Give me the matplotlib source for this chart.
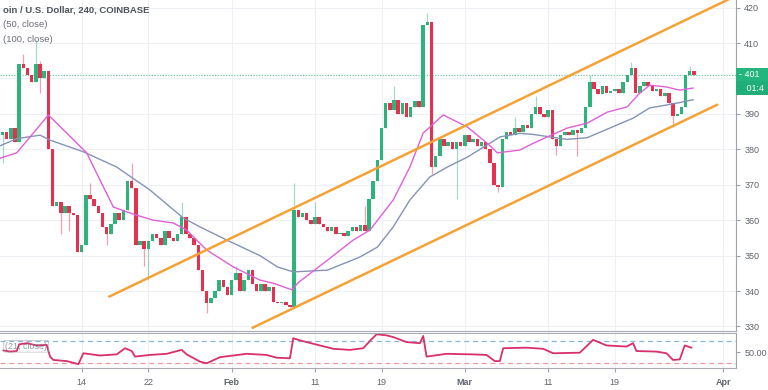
import numpy as np
import pandas as pd
import matplotlib
matplotlib.use('Agg')
import matplotlib.pyplot as plt
import matplotlib.transforms as mtransforms

plt.rcParams['font.family'] = ['Liberation Sans', 'DejaVu Sans']

# 12h candles, first one Jan 4 12:00 (2019)
first_open = 384
closes = [
    385, 383, 386, 382, 404, 403, 401, 399, 404, 400, 402, 380,
    364, 365, 362, 364, 362, 361.5, 351, 353, 367, 366, 364, 362,
    358, 356, 359, 362, 360, 363, 371, 369, 353, 354, 352, 354,
    356, 355, 353, 357, 355, 354, 356, 361, 356, 355, 353, 346,
    340, 336.5, 338, 340, 343, 341, 339, 343, 345, 340, 343, 346,
    342, 340, 342, 340, 341, 337, 336.5, 337, 336, 335.5, 363, 361,
    362, 360, 359, 361, 359, 358, 357, 358, 356, 356.5, 355.5, 357,
    358, 357, 358.5, 357, 366, 371, 377, 386, 393, 391, 394, 390,
    393, 389, 392, 393.5, 392, 415, 416, 375, 378, 383, 381, 382,
    380, 382, 381, 384, 382, 383, 381, 382, 380, 376, 370, 369.5,
    383, 385, 384, 386, 385, 387, 386, 390, 392, 390, 389, 391,
    383, 381, 384, 385, 384, 385.5, 384.5, 386, 392, 399, 397, 395.5,
    398, 396, 396.5, 397, 396, 399, 401, 403, 396, 398, 399, 398,
    396.5, 397, 395, 396, 393, 389.5, 390, 392, 401, 402, 401,
]
wick_high = {
    '2019-01-07 00:00': 407, '2019-01-08 12:00': 411, '2019-01-09 00:00': 405,
    '2019-01-15 00:00': 370.5, '2019-01-20 00:00': 376, '2019-01-26 00:00': 365,
    '2019-02-01 12:00': 347, '2019-02-08 12:00': 370.5, '2019-02-11 00:00': 365,
    '2019-02-17 00:00': 364, '2019-02-20 12:00': 398, '2019-02-24 12:00': 418.5,
    '2019-03-07 00:00': 389, '2019-03-09 12:00': 395, '2019-03-16 00:00': 401,
    '2019-03-21 00:00': 404.6, '2019-03-28 00:00': 403.5,
}
wick_low = {
    '2019-01-04 12:00': 376, '2019-01-09 00:00': 396, '2019-01-11 12:00': 356,
    '2019-01-12 12:00': 357, '2019-01-17 00:00': 353, '2019-01-21 12:00': 347,
    '2019-01-22 00:00': 343, '2019-01-29 00:00': 333.7, '2019-02-25 00:00': 373,
    '2019-02-28 00:00': 366, '2019-03-05 00:00': 368, '2019-03-12 00:00': 378.5,
    '2019-03-14 12:00': 378, '2019-03-26 00:00': 386.3,
}

# moving averages, days after Jan 1
ma50_day = [3.2, 5.2, 7.2, 9.0, 11.2, 13.6, 15.2, 16.8, 19.2, 21.6, 24.0, 25.6, 28.0,
            31.2, 34.4, 36.0, 38.3, 38.9, 42.5, 45.6, 47.6, 50.4, 52.4, 54.0, 56.4,
            59.3, 61.7, 62.9, 65.6, 67.2, 71.3, 73.7, 76.1, 78.5, 80.0, 81.2, 83.2, 84.8, 86.4]
ma50 = [377.5, 379, 384.6, 389.7, 384.6, 379, 371.3, 363.7, 361.7, 360, 359.2, 357.2, 351.6,
        346.8, 343.1, 342.2, 340.3, 342.2, 348.7, 354.4, 357.2, 365.7, 375, 384.6, 389.7,
        386.3, 381.7, 379, 379.8, 381.7, 386, 387.4, 390.5, 392, 395.9, 398.1, 397.6, 396.7, 397.3]
ma100_day = [3.2, 5.2, 8.0, 9.2, 13.2, 17.2, 21.2, 25.2, 27.2, 30.4, 34.4, 36.5, 38.4,
             42.5, 46.4, 48.5, 50.4, 52.4, 54.8, 56.9, 59.3, 62.4, 63.2, 65.6, 67.2,
             71.3, 73.7, 76.4, 79.2, 81.2, 83.2, 84.8, 86.4]
ma100 = [381, 383, 384, 382.6, 379.3, 375, 368.5, 360.6, 358.1, 354.4, 350, 346.8, 345.4,
         345.9, 349.6, 352.4, 358.1, 365.7, 372.2, 375, 377.8, 382.3, 383.5, 384.5, 384.2,
         382.8, 383.3, 386, 388.8, 391.7, 392.5, 393.2, 394]

# RSI
rsi_day = [3.6, 4.4, 5.2, 5.5, 6.4, 7.6, 8.8, 9.2, 9.6, 11.2, 12.6, 13.2, 15.2, 17.2, 18.2,
           19.0, 19.4, 21.2, 23.2, 25.0, 25.6, 27.2, 28.0, 29.6, 31.2, 32.8, 35.2, 36.4,
           38.0, 38.4, 39.2, 40.8, 43.2, 45.2, 46.8, 47.6, 48.4, 49.6, 50.4, 52.0, 53.6,
           54.0, 54.4, 56.8, 60.0, 61.6, 62.6, 63.2, 63.6, 66.4, 68.4, 69.6, 72.8, 74.4,
           76.0, 78.4, 79.2, 79.6, 82.0, 83.2, 84.0, 84.8, 85.4, 86.2]
rsi = [53, 51, 52, 64, 66, 62, 63, 42, 36, 34, 28.5, 48, 44, 46, 57,
       52, 42, 45, 47, 54, 46, 33, 30, 41, 44, 47, 45, 40,
       39, 75, 71, 65, 56, 54, 57, 70, 82, 80, 77, 68, 66,
       79, 42, 47, 46, 45, 34, 34, 57, 58, 56, 48, 49, 72,
       62, 60, 66, 52, 51, 48, 36, 37, 62, 58]

# channel trend lines (day, price)
upper_line = [(16.2, 338.3), (94.0, 426.1)]
lower_line = [(33.4, 329.5), (89.4, 392.7)]
last_price = 401

date_ticks = ['2019-01-14', '2019-01-22', '2019-02-01', '2019-02-11', '2019-02-19',
              '2019-03-01', '2019-03-11', '2019-03-19', '2019-04-01']
date_labels = ['14', '22', 'Feb', '11', '19', 'Mar', '11', '19', 'Apr']
price_ticks = [330, 340, 350, 360, 370, 380, 390, 400, 410, 420]

base = pd.Timestamp('2019-01-01')


def to_dates(days):
    return base + pd.to_timedelta(np.asarray(days, dtype=float), unit='D')


up_c, down_c = '#2fb37c', '#e3324f'
grid_c = '#edf1f5'
text_c = '#5f636d'

times = pd.date_range('2019-01-04 12:00', periods=len(closes), freq='12h')
opens = [first_open] + closes[:-1]
highs, lows, colors, bottoms, heights = [], [], [], [], []
for ts, o, c in zip(times, opens, closes):
    key = ts.strftime('%Y-%m-%d %H:%M')
    highs.append(wick_high.get(key, max(o, c)))
    lows.append(wick_low.get(key, min(o, c)))
    colors.append(up_c if c >= o else down_c)
    bottoms.append(min(o, c))
    heights.append(max(abs(c - o), 0.5))

fig = plt.figure(figsize=(7.68, 3.9), dpi=100)
ax = fig.add_axes([0, 0.1513, 0.9583, 0.8487])
rax = fig.add_axes([0, 0.0564, 0.9583, 0.0898], sharex=ax)

tick_dates = pd.to_datetime(date_ticks)
for a in (ax, rax):
    a.set_xticks(tick_dates)
    a.grid(True, axis='x', color=grid_c, lw=0.8)
    a.set_axisbelow(True)
    a.spines['left'].set_visible(False)
    a.spines['right'].set_color('#9ea2a9')
    a.spines['bottom'].set_color('#a9acb2')
    a.spines['top'].set_color('#a9acb2')
ax.spines['top'].set_visible(False)
ax.grid(True, axis='y', color=grid_c, lw=0.8)

ax.axhline(last_price, color='#6fcfa3', lw=0.9, ls=(0, (1, 1.2)), zorder=1)

ax.vlines(times, lows, highs, colors=colors, lw=0.9, alpha=0.45, zorder=2)
ax.bar(times, heights, bottom=bottoms, width=0.42, color=colors, linewidth=0, zorder=3)

ax.plot(to_dates(ma100_day), ma100, color='#8593b6', lw=1.0, zorder=4)
ax.plot(to_dates(ma50_day), ma50, color='#e060d8', lw=1.0, zorder=4)

for line in (upper_line, lower_line):
    d, p = zip(*line)
    ax.plot(to_dates(d), p, color='#f4a236', lw=1.8, zorder=5, solid_capstyle='butt')

ax.set_xlim(to_dates([3.19])[0], to_dates([91.55])[0])
ax.set_ylim(328.72, 422.15)
ax.yaxis.tick_right()
ax.set_yticks(price_ticks)
ax.tick_params(axis='y', labelsize=6.5, colors='#9ea2a9', labelcolor=text_c, length=3, pad=3)
ax.tick_params(axis='x', labelbottom=False, length=0)

# price label boxes
trans = mtransforms.blended_transform_factory(ax.transAxes, ax.transData)
ax.annotate('- 401        ', xy=(1.0, last_price), xycoords=trans, xytext=(2, 0),
            textcoords='offset points', ha='left', va='center', color='white', fontsize=6.5,
            bbox=dict(boxstyle='square,pad=0.3', fc='#22b57d', ec='none'), annotation_clip=False)
ax.annotate('   01:4       ', xy=(1.0, last_price), xycoords=trans, xytext=(2, -9.5),
            textcoords='offset points', ha='left', va='center', color='white', fontsize=6.5,
            bbox=dict(boxstyle='square,pad=0.3', fc='#1fae77', ec='none'), annotation_clip=False)

# RSI panel
rax.axhline(70, color='#86b8d8', lw=0.9, ls=(0, (4, 3)))
rax.axhline(30, color='#f09a9e', lw=0.9, ls=(0, (4, 3)))
rax.plot(to_dates(rsi_day), rsi, color='#d92f6d', lw=1.3)
rax.set_ylim(21.6, 84.3)
rax.yaxis.tick_right()
rax.set_yticks([50])
rax.set_yticklabels(['50.00'])
rax.tick_params(axis='y', labelsize=6.5, colors='#9ea2a9', labelcolor=text_c, length=3, pad=3)
rax.set_xticklabels(date_labels)
rax.tick_params(axis='x', labelsize=6.5, colors='#9ea2a9', labelcolor=text_c, length=3, pad=4)
for lab in rax.get_xticklabels():
    if lab.get_text() in ('Feb', 'Mar', 'Apr'):
        lab.set_fontweight('bold')
rax.text(0.007, 0.62, '(21, close)', transform=rax.transAxes, fontsize=6.5, color='#7d8089',
         alpha=0.8, va='center', zorder=5,
         bbox=dict(boxstyle='round,pad=0.15', fc='none', ec='#9ea2a9', lw=0.6, alpha=0.6))

fig.text(0.004, 0.974, 'oin / U.S. Dollar, 240, COINBASE', fontsize=6.8, fontweight='bold',
         color='#4f535c', va='center')
fig.text(0.004, 0.936, '(50, close)', fontsize=6.8, color='#6a6e77', va='center')
fig.text(0.004, 0.9, '(100, close)', fontsize=6.8, color='#6a6e77', va='center')

fig.savefig('out.png', dpi=100)
